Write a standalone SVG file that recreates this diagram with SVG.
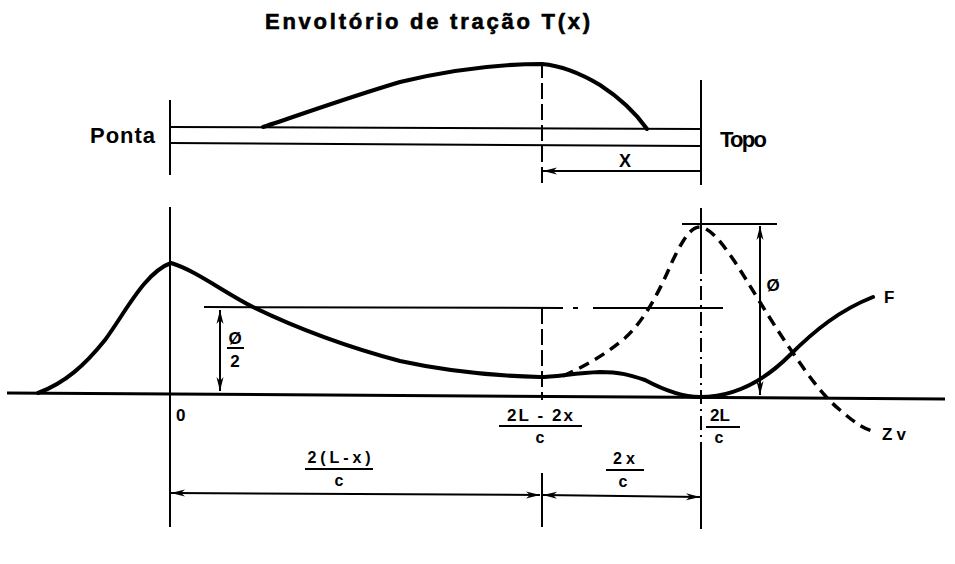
<svg xmlns="http://www.w3.org/2000/svg" width="955" height="564" viewBox="0 0 955 564">
<style>
.ln{stroke:#000;stroke-width:2;fill:none}
.thick{stroke:#000;stroke-width:4;fill:none;stroke-linecap:round;stroke-linejoin:round}
.dash{stroke:#000;stroke-width:3.5;fill:none;stroke-dasharray:11 7}
.vd{stroke:#000;stroke-width:2;fill:none;stroke-dasharray:16 5}
.t{font-family:"Liberation Sans","DejaVu Sans",sans-serif;font-weight:bold;fill:#000}
</style>
<defs>
<marker id="ah" viewBox="0 0 14 8" refX="14" refY="4" markerWidth="14" markerHeight="8" markerUnits="userSpaceOnUse" orient="auto-start-reverse">
<path d="M0,0.5 L14,4 L0,7.5 L4,4 Z" fill="#000"/>
</marker>
</defs>
<rect width="955" height="564" fill="#fff"/>

<g id="title"><text class="t" x="265" y="29" font-size="22" font-weight="normal" stroke="#000" stroke-width="0.6" textLength="325" lengthAdjust="spacing">Envoltório de tração T(x)</text></g>

<g id="bar">
<line class="ln" x1="170" y1="127" x2="700" y2="129"/>
<line class="ln" x1="170" y1="143" x2="700" y2="146"/>
<path class="thick" d="M263,127 C300,115 340,100 400,82 C450,70 500,64 542,64 C565,66 585,76 600,85 C620,98 635,112 647,129"/>
<text class="t" x="90" y="143" font-size="22" textLength="65" lengthAdjust="spacing">Ponta</text>
<text class="t" x="720" y="147" font-size="22" textLength="47" lengthAdjust="spacing">Topo</text>
<text class="t" x="619" y="167" font-size="18">X</text>
</g>

<g id="axes">
<line x1="7" y1="393" x2="945" y2="399" stroke="#000" stroke-width="3"/>
<line class="ln" x1="170" y1="100" x2="170" y2="175"/>
<line class="ln" x1="170" y1="207" x2="170" y2="527"/>
<line class="vd" x1="542" y1="62" x2="542" y2="185"/>
<line class="vd" x1="542" y1="308" x2="542" y2="400"/>
<line class="ln" x1="542" y1="473" x2="542" y2="527"/>
<line class="ln" x1="701" y1="80" x2="701" y2="185"/>
<line class="ln" x1="701" y1="208" x2="701" y2="260"/>
<line class="ln" x1="701" y1="260" x2="701" y2="445" stroke-dasharray="14 5 2 5"/>
<line class="ln" x1="701" y1="445" x2="701" y2="529"/>
<line class="ln" x1="204" y1="307" x2="563" y2="308"/>
<line class="ln" x1="573" y1="308" x2="578" y2="308"/>
<line class="ln" x1="593" y1="308" x2="723" y2="308"/>
<line class="ln" x1="682" y1="224" x2="777" y2="224"/>
<text class="t" x="176" y="421" font-size="17">0</text>
</g>

<g id="curve-F">
<path class="thick" d="M38,393 C65,383 85,365 105,340 C125,313 145,272 171,263 C195,270 225,293 253,307 C290,325 340,345 400,361 C450,372 500,376 540,377 C555,377 575,373 600,372 C620,372 630,375 645,380 C660,388 680,397 700,397 C730,397 760,385 790,355 C815,330 840,310 873,297"/>
<text class="t" x="884" y="303" font-size="17">F</text>
</g>

<g id="curve-Zv">
<path class="dash" d="M563,376 C585,366 605,355 625,338 C645,320 660,290 672,262 C685,235 692,227 700,227 C710,228 720,240 735,262 C750,285 770,320 793,353 C810,378 825,398 840,410 C855,423 865,430 877,432"/>
<text class="t" x="882" y="440" font-size="17" textLength="24" lengthAdjust="spacing">Zv</text>
</g>

<g id="connectors">
<line class="ln" x1="700" y1="171" x2="543" y2="171" marker-end="url(#ah)"/>
<line class="ln" x1="220" y1="310" x2="220" y2="391" marker-start="url(#ah)" marker-end="url(#ah)"/>
<line class="ln" x1="760" y1="226" x2="760" y2="395" marker-start="url(#ah)" marker-end="url(#ah)"/>
<line class="ln" x1="171" y1="493" x2="540" y2="495" marker-start="url(#ah)" marker-end="url(#ah)"/>
<line class="ln" x1="543" y1="495" x2="700" y2="497" marker-start="url(#ah)" marker-end="url(#ah)"/>
</g>

<g id="labels">
<text class="t" x="235" y="344" font-size="17" text-anchor="middle">Ø</text>
<line class="ln" x1="227" y1="348" x2="244" y2="348"/>
<text class="t" x="235" y="367" font-size="17" text-anchor="middle">2</text>
<text class="t" x="773" y="291" font-size="17" text-anchor="middle">Ø</text>

<text class="t" x="540" y="421" font-size="17" text-anchor="middle" textLength="66" lengthAdjust="spacing">2L - 2x</text>
<line class="ln" x1="499" y1="426" x2="582" y2="426"/>
<text class="t" x="540" y="443" font-size="16" text-anchor="middle">c</text>

<text class="t" x="720" y="421" font-size="17" text-anchor="middle">2L</text>
<line class="ln" x1="706" y1="427" x2="740" y2="427"/>
<text class="t" x="719" y="443" font-size="16" text-anchor="middle">c</text>

<text class="t" x="339" y="463" font-size="16" text-anchor="middle" textLength="63" lengthAdjust="spacing">2(L-x)</text>
<line class="ln" x1="305" y1="469" x2="373" y2="469"/>
<text class="t" x="339" y="486" font-size="16" text-anchor="middle">c</text>

<text class="t" x="624" y="464" font-size="16" text-anchor="middle" textLength="22" lengthAdjust="spacing">2x</text>
<line class="ln" x1="606" y1="470" x2="644" y2="470"/>
<text class="t" x="623" y="487" font-size="16" text-anchor="middle">c</text>
</g>
</svg>
